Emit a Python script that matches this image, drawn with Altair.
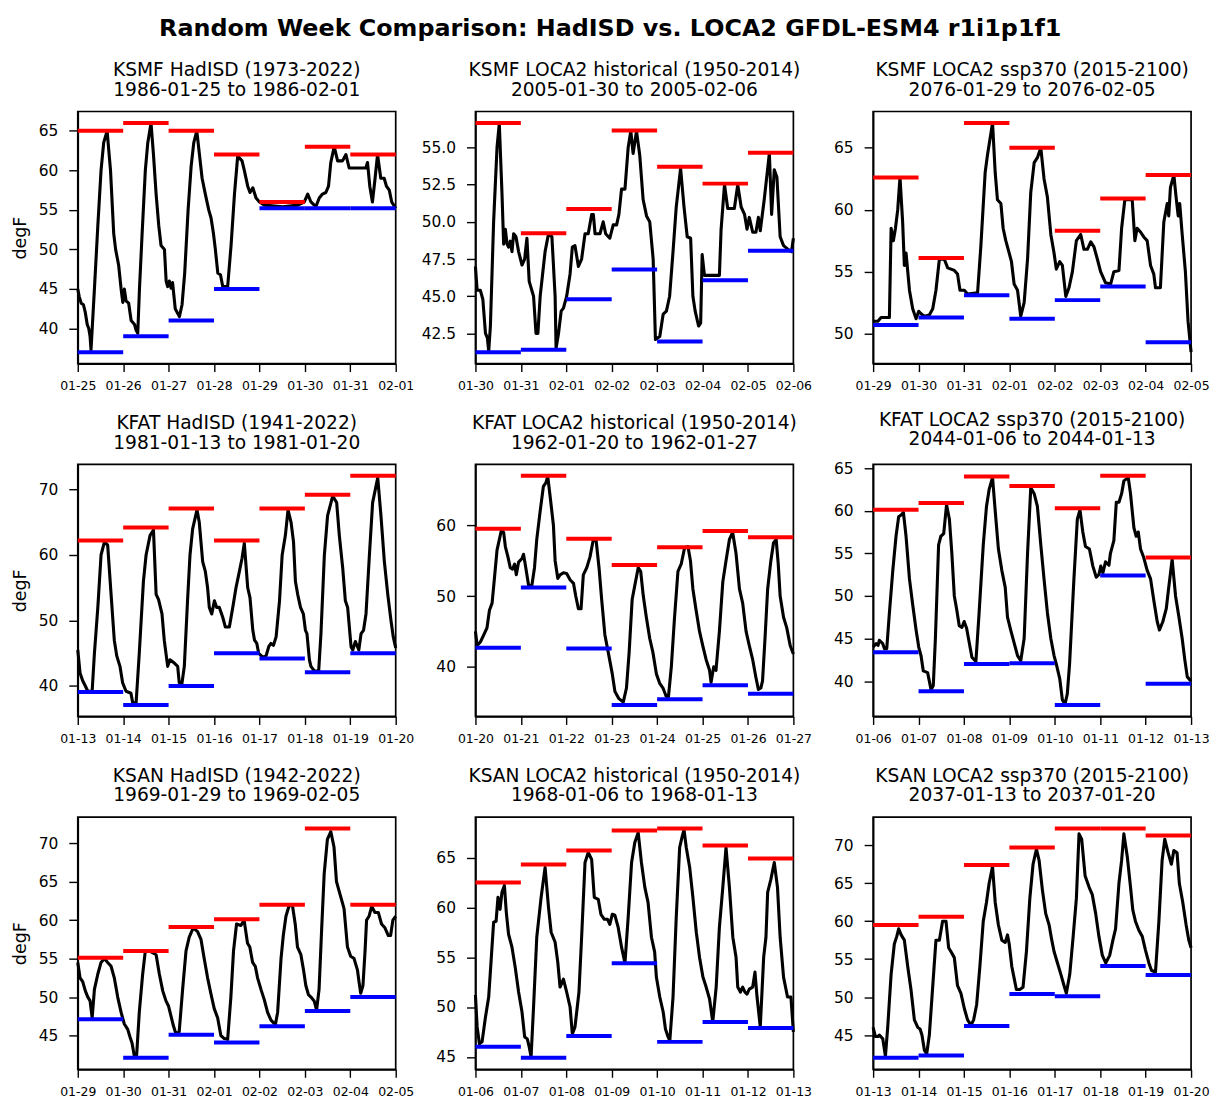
import altair as alt
import pandas as pd

MAIN_TITLE = "Random Week Comparison: HadISD vs. LOCA2 GFDL-ESM4 r1i1p1f1"

# ---------------- Panel 1 : KSMF HadISD ----------------
p1_title = ["KSMF HadISD (1973-2022)", "1986-01-25 to 1986-02-01"]
p1_days = ["01-25", "01-26", "01-27", "01-28", "01-29", "01-30", "01-31", "02-01"]
p1_yticks = [40, 45, 50, 55, 60, 65]
p1_max = [65, 66, 65, 62, 56, 63, 62]
p1_min = [37, 39, 41, 45, 55.2, 55.2, 55.2]
p1_line = [(0,45),(0.8,44),(1.8,43.2),(3,43),(4,42),(5,40.5),(5.8,40),(6.5,39),(7,37.3),(8.8,45),(10.6,53),(12.3,60),(13.7,63.5),(15.5,65),(17.3,60),(19,52),(20,50),(21.6,48),(22.9,45),(23.8,43.3),(24.6,45),(25.5,43.5),(26.9,43.2),(28.2,41),(30,40.5),(30.8,39.8),(31.7,39.4),(32.6,45),(34,52),(35.7,60),(37,63.5),(38.7,66),(40,62),(41.4,57),(42.8,53),(44,50.5),(45.8,50),(46.7,46),(47.5,45.3),(48.4,46),(49.3,45.1),(50.1,45.8),(51.5,42.5),(53.7,41.5),(55.1,43),(56.5,47),(58.3,55),(59.9,60.5),(61.3,63.5),(62.9,65),(64.3,62),(65.7,59),(67.4,57),(69.2,55),(70.4,54),(71.7,52),(72.7,50),(74,47),(75.4,46.8),(76.6,45.3),(79.2,45.3),(81,50.5),(82.8,57),(84.5,61.8),(86.8,61.2),(88,60),(89.8,58),(91,57.2),(92.5,57.8),(94.2,56.5),(96,56),(98.6,55.6),(108.3,55.4),(116.2,55.6),(119.7,56),(121.5,57),(123.2,56),(125.8,55.4),(127.6,56.5),(129.3,57),(131.1,57.2),(132.5,58),(133.7,61),(135.5,63),(137.3,61.2),(139.9,61.2),(141.7,62),(143.4,60.3),(152.2,60.3),(153.1,61),(154.3,58),(155.7,56),(157.1,59),(158.4,62),(160.1,59),(161.9,59),(163.1,58),(164.6,57.5),(165.9,56),(168,55.2)]

# ---------------- Panel 2 : KSMF LOCA2 historical ----------------
p2_title = ["KSMF LOCA2 historical (1950-2014)", "2005-01-30 to 2005-02-06"]
p2_days = ["01-30", "01-31", "02-01", "02-02", "02-03", "02-04", "02-05", "02-06"]
p2_yticks = [42.5, 45.0, 47.5, 50.0, 52.5, 55.0]
p2_max = [56.65, 49.23, 50.86, 56.14, 53.7, 52.57, 54.64]
p2_min = [41.24, 41.41, 44.8, 46.8, 41.95, 46.07, 48.05]
p2_line = [(0,47),(0.9,45.4),(2.6,45.4),(3.9,44.8),(5.3,42.5),(6.3,42.2),(7,41.3),(7.9,43),(9.6,50),(11.4,55),(12.6,56.6),(14,52),(14.9,48.5),(15.8,49.5),(16.7,48.5),(17.5,48.3),(18.4,48.7),(19.3,48),(20.2,49.2),(21.4,49),(22.8,48),(24.6,47.1),(26,47.5),(27.2,48.9),(28.4,46),(30.7,45),(32,42.5),(33,42.5),(34.2,45),(36.8,48),(38.6,49.2),(40.4,49),(42.1,45),(42.6,41.5),(43.9,42.5),(45.3,44),(46.5,44.2),(48.2,45),(50,46.5),(51.2,48.3),(52.6,48.4),(54.4,47),(56.1,47.5),(57.9,49.2),(59.6,49.2),(61.4,50.5),(62.3,50.5),(63.2,49.2),(65.8,49.2),(67.5,50),(68.8,49.2),(71,48.9),(72.8,49.8),(74.6,49.8),(75.8,50.5),(77.2,52.2),(79,52.2),(80.7,55),(82.1,56.1),(83.3,54.6),(85.1,56.1),(86.8,54.5),(88.6,51.5),(90.4,50.4),(92.1,50),(93.9,47.5),(95.1,42.1),(97.4,42.3),(99.2,43.8),(100.9,44),(102.6,45),(104.4,48),(106.1,51),(108.4,53.6),(110.2,51),(111.9,49),(113.7,48.9),(114.9,45),(116.1,44),(117.9,43),(119,43.2),(119.8,47.8),(121,46.4),(128.9,46.4),(129.8,49.5),(131.6,52.5),(133.3,50.9),(136.8,50.9),(138.6,52.5),(140.4,51),(142.2,50.5),(143.5,49.5),(144.7,50.3),(146.5,49.3),(148.2,49.3),(149.5,50.3),(150.5,49.4),(152.6,51.5),(155.3,54.6),(156.5,50.5),(157.9,53.5),(159.3,53),(161,49),(162.8,48.4),(165.7,48.1),(167,48),(168,48.9)]

# ---------------- Panel 3 : KSMF LOCA2 ssp370 ----------------
p3_title = ["KSMF LOCA2 ssp370 (2015-2100)", "2076-01-29 to 2076-02-05"]
p3_days = ["01-29", "01-30", "01-31", "02-01", "02-02", "02-03", "02-04", "02-05"]
p3_yticks = [50, 55, 60, 65]
p3_max = [62.6, 56.1, 67, 65, 58.3, 60.9, 62.8]
p3_min = [50.7, 51.3, 53.1, 51.2, 52.7, 53.8, 49.3]
p3_line = [(0,51),(2.5,51),(4.2,51.3),(8.6,51.3),(9.5,58.5),(10.7,57.5),(11.8,58.5),(13,60),(14.2,62.6),(15.6,59),(16.5,55.5),(17.4,56.5),(19.2,53.5),(20.9,52),(22.7,51.2),(24.1,51.8),(25.3,51.6),(27.1,51.4),(29.7,51.5),(31.5,52),(33.2,53.5),(35,56),(37.6,56),(39.4,55.3),(42.9,55.1),(44.6,54.8),(45.9,53.5),(48.2,53.5),(49.9,53.2),(55.2,53.3),(56.9,57),(59.2,63),(60.5,64.5),(63.1,67),(64.5,63),(65.7,60.8),(67.5,60.5),(68.7,58.5),(70.1,57.5),(71.9,56.5),(73.1,55.8),(74.5,54),(76.3,53.5),(78,51.4),(79.8,52.5),(81.6,56),(83.3,61.4),(85.1,63.8),(86.8,64.2),(88.6,65),(90.3,62.5),(92.1,61),(93.9,58),(95.6,56.5),(96.8,55.2),(98.6,55.8),(100,55.5),(101.8,53),(103.5,53.7),(105.3,55),(107.4,57.5),(109.7,58),(111.4,56.8),(113.2,56.8),(115,57.4),(116.7,57),(118.5,56),(120.2,55),(122.8,54.1),(125.5,54),(127.2,55),(129.9,55.1),(131.3,58.5),(133,60.8),(136.9,60.8),(138.3,57.5),(139.5,58.5),(141.3,58.2),(143,57.8),(144.8,57.5),(146.6,55.5),(148.3,54.8),(149.2,53.7),(151.8,53.7),(153.6,59),(155.4,60.5),(156.2,59.5),(157.1,61.8),(158.9,62.8),(160.1,61),(161.2,59.5),(162,60.5),(163.2,58.2),(165,55),(166.4,51),(168,48.5)]

# ---------------- Panel 4 : KFAT HadISD ----------------
p4_title = ["KFAT HadISD (1941-2022)", "1981-01-13 to 1981-01-20"]
p4_days = ["01-13", "01-14", "01-15", "01-16", "01-17", "01-18", "01-19", "01-20"]
p4_yticks = [40, 50, 60, 70]
p4_max = [62.2, 64.2, 67.1, 62.2, 67.1, 69.2, 72.1]
p4_min = [39.1, 37.1, 40, 45, 44.2, 42.1, 45]
p4_line = [(0,45.5),(1.2,42),(2.6,40.8),(4,40),(5.3,39.2),(7.6,39.2),(8.8,45),(10.6,52),(12.3,60),(14.1,62),(15.8,61.5),(17.6,54),(19.3,47),(20.6,44.6),(22.3,43),(23.7,40.5),(25.5,39.2),(28.1,38.9),(29,37.5),(30.8,37.3),(32.5,45),(34.7,56),(36.1,60),(38.2,63),(40,63.8),(41.4,54),(42.7,53.2),(44.5,51),(45.7,47),(47.5,43),(48.7,44),(51,43.5),(52.8,43),(53.6,40.5),(55,40.3),(56.3,43),(58,53),(59.3,60),(60.7,64),(63,66.9),(64.2,65),(66,59),(67.4,57.5),(68.6,55),(69.5,52),(70.8,51),(72.2,53),(73.4,52),(74.8,52),(76.6,50.5),(78,49),(80.1,49),(81.9,52),(83.6,55),(85.4,57.5),(86.8,59.5),(88,61.8),(89.8,55),(91,53.5),(92.5,48.5),(93.4,47),(94.6,46.5),(95.6,45),(97.7,44.4),(99.5,44.6),(100.9,46),(102.1,46.5),(103.4,46.2),(104.8,47.5),(106.6,53),(108,60),(109.7,63),(111.1,66.9),(112.7,65),(114,62),(115,56),(116.2,54),(117.7,52),(119.2,51),(120.3,48.5),(121.1,48),(122.4,44),(123.2,43),(125,42.3),(127.3,42.3),(128.5,48),(130.3,60),(132,66),(134.7,69),(136.8,68),(138.2,63),(140,58),(141.4,53),(142.6,52),(144.4,46),(145.3,45.5),(146.7,46.8),(148.5,45.5),(149.7,48),(151,48.5),(152.3,51),(154.1,60),(155.8,68),(158.5,71.8),(160.2,66),(162,59),(163.8,54),(165.5,50),(166.7,47.5),(168,45.8)]

# ---------------- Panel 5 : KFAT LOCA2 historical ----------------
p5_title = ["KFAT LOCA2 historical (1950-2014)", "1962-01-20 to 1962-01-27"]
p5_days = ["01-20", "01-21", "01-22", "01-23", "01-24", "01-25", "01-26", "01-27"]
p5_yticks = [40, 50, 60]
p5_max = [59.5, 67, 58.1, 54.4, 56.9, 59.2, 58.3]
p5_min = [42.7, 51.2, 42.6, 34.6, 35.4, 37.4, 36.2]
p5_line = [(0,45),(0.9,43),(2.6,43.5),(4.4,44.5),(6.1,45.5),(7.4,48),(8.8,49),(10.2,53),(11.4,56.5),(13.7,59.3),(14.9,59),(15.8,57),(17.2,55.5),(18.4,54),(19.6,53.8),(20.7,54.5),(21.6,53),(22.8,54.8),(24.6,55.3),(25.4,55.9),(26.3,54.5),(28.1,51.5),(29.8,51.5),(31.2,54),(32.4,58),(34.2,62),(35.9,65.5),(37.2,66),(38.2,66.9),(39.5,64),(41.2,60),(42.1,55),(43.5,52.5),(44.7,53),(46.5,53.3),(48.2,53.2),(50,52.3),(51.8,51.8),(53,50),(54.4,48.2),(55.8,48.2),(57,53),(58.8,54),(60.5,55.5),(62.3,58),(63.7,58),(65.3,54),(66.7,49.5),(68.4,44.5),(70.2,42),(72.3,39),(73.7,36.5),(75.8,35.5),(78.1,35),(79.8,37),(81.2,42),(82.8,49.5),(84.2,51.5),(86,54),(87.3,53.5),(88.7,50),(90.3,47),(92.1,44),(93.8,42),(95.6,39),(97.3,37.7),(99.1,37),(100.8,35.8),(102,35.8),(103.5,40),(105.2,47),(107,53.5),(108.7,54.5),(110.5,56.8),(112.3,57),(113.6,55),(114.9,51),(116.6,48),(118.4,45),(120.1,43),(121.9,41),(123.7,39.5),(124.5,37.8),(125.9,40),(127.1,39.5),(128.9,45),(130.7,52),(132.4,55),(134.2,58),(135.9,59),(137.7,56),(139.5,51),(141.2,49),(143,45),(144.7,43),(146.5,41),(148.2,38.5),(149.5,36.8),(150.8,37),(151.7,38),(153,44),(154.4,51),(156.1,55),(157.5,57.5),(158.9,58),(160,54.5),(161,50),(162.8,47),(164.5,45.5),(166.3,43),(168,41.8)]

# ---------------- Panel 6 : KFAT LOCA2 ssp370 ----------------
p6_title = ["KFAT LOCA2 ssp370 (2015-2100)", "2044-01-06 to 2044-01-13"]
p6_days = ["01-06", "01-07", "01-08", "01-09", "01-10", "01-11", "01-12", "01-13"]
p6_yticks = [40, 45, 50, 55, 60, 65]
p6_max = [60.1, 60.9, 64, 62.9, 60.3, 64.1, 54.5]
p6_min = [43.4, 38.8, 42, 42.1, 37.2, 52.4, 39.7]
p6_line = [(0,44),(1.6,44.4),(2.6,44.2),(3.3,44.8),(5.1,44.4),(6,43.8),(7.2,43.8),(8.6,48),(10.4,53),(12.1,57),(13.5,59.3),(14.8,59.5),(16,59.8),(17.4,57),(19.2,52),(20.9,49),(22.7,46),(24.1,44),(25.3,43),(26.5,41.2),(28.8,41),(30.6,39),(31.8,39.5),(32.9,45),(34.6,56),(35.8,57),(37.3,57.3),(38.8,60.7),(40.3,59),(41.6,55),(42.9,50),(44.1,48.5),(45.5,46.5),(46.9,46.3),(48.1,47),(49.4,46.2),(50.8,44.5),(52.2,42.8),(54.3,42.3),(56,48),(58.2,56),(59.9,60.5),(61.3,62.5),(63.1,63.9),(64.5,60),(66.2,55.5),(68,53),(69.8,51),(71,47.5),(72.7,46),(74.5,44.5),(76.3,43),(78,42.4),(79.8,45),(81.6,55),(83.3,62.7),(85.1,62),(86.8,60.5),(88.6,56),(90.3,52),(92.1,48),(93.9,45),(95.6,43),(96.8,42),(98.6,40.3),(100,37.8),(101.4,37.3),(102.6,38.5),(103.8,42),(106.1,52),(107.9,59),(109.3,60.1),(110.8,57.5),(112.2,55.8),(114.3,55.5),(116.1,53.5),(117.9,52.2),(119.3,52.5),(120.3,53.5),(121.4,52.7),(122.8,54),(124.6,53.6),(125.4,55),(127.2,56.5),(128.5,61),(129.9,61),(131.3,62),(132.5,63.5),(134.8,63.9),(136,62),(137.8,58),(139,57),(140.1,57.5),(141.3,55.5),(143,54.5),(144.8,53),(146.6,52),(148.3,49.5),(150.1,47),(151.3,46),(153.1,47),(154.9,48.5),(156.2,51),(158,54.3),(159.8,50),(161.6,47.5),(163.3,45),(164.7,42.5),(166,40.5),(168,40)]

# ---------------- Panel 7 : KSAN HadISD ----------------
p7_title = ["KSAN HadISD (1942-2022)", "1969-01-29 to 1969-02-05"]
p7_days = ["01-29", "01-30", "01-31", "02-01", "02-02", "02-03", "02-04", "02-05"]
p7_yticks = [45, 50, 55, 60, 65, 70]
p7_max = [55.1, 56, 59.1, 60.1, 62, 71.9, 62]
p7_min = [47.1, 42.1, 45.1, 44.1, 46.2, 48.2, 50]
p7_line = [(0,54.5),(1.2,52.5),(2.6,52),(4,50.8),(5.3,50),(6.5,49.5),(7.6,47.3),(8.8,51),(10.6,53),(12.3,54.5),(14.1,55),(15.8,54.5),(17.6,54),(19.3,52.5),(21.1,50),(22.9,48),(24.6,46.5),(26.4,45.8),(27.6,44.8),(28.7,44),(29.9,42.3),(31.1,42.4),(32.5,48),(34.3,53),(35.7,56),(37.8,56),(41.4,55.5),(43.1,53),(44.9,50.8),(46.6,49.5),(48,48.8),(49.3,47.5),(50.5,46.3),(51.9,45.2),(53.6,45.5),(55.4,51),(57.2,56),(58.9,57.8),(61,59),(63.3,58.5),(65.1,57.5),(66.8,55),(68.6,52.5),(70.3,50.5),(72.1,48.5),(73.9,47.3),(75.6,45),(77.4,44.6),(79.2,44.5),(80.9,50),(82.3,56),(83.9,59.5),(86.2,59.3),(87.9,60),(89.7,57),(90.9,56.5),(92.4,54.5),(93.8,54),(95,52.5),(96.8,51),(98.5,49.7),(100.3,48),(102.1,47),(104.4,46.4),(105.6,48),(107.4,55),(108.6,58),(110,60.5),(111.8,62),(113.5,61.8),(114.9,59.5),(116.1,56.5),(117.9,55.5),(119.3,53.5),(120.5,51.5),(121.9,50.3),(123.2,50),(124.9,49.5),(126.2,48.3),(127.5,51),(128.9,59),(130.2,66),(131.9,70.5),(133.7,71.5),(135.4,69.5),(136.7,65),(139,63),(140.7,61.5),(141.6,59),(142.5,56.5),(144.2,55.3),(146,55),(147.8,53.5),(148.6,52),(149.5,50.5),(150.7,51.5),(151.8,56),(152.6,60),(153.9,60.5),(155.3,61.8),(157,61),(158.8,61),(160.5,59.5),(162.3,59),(164.1,58),(165.3,58),(166.5,60),(168,60.5)]

# ---------------- Panel 8 : KSAN LOCA2 historical ----------------
p8_title = ["KSAN LOCA2 historical (1950-2014)", "1968-01-06 to 1968-01-13"]
p8_days = ["01-06", "01-07", "01-08", "01-09", "01-10", "01-11", "01-12", "01-13"]
p8_yticks = [45, 50, 55, 60, 65]
p8_max = [62.5, 64.3, 65.7, 67.7, 67.9, 66.2, 64.9]
p8_min = [46, 44.9, 47.1, 54.4, 46.5, 48.5, 47.9]
p8_line = [(0,51.2),(0.9,48),(2.1,46.3),(3.5,46.5),(5.3,49),(7,51),(8.4,55),(9.6,58.5),(10.9,58.6),(11.9,61),(13,59.8),(14,61.5),(15.3,62.2),(16.3,59.5),(17.5,57.3),(19.3,56),(21,54),(22.8,51.5),(24.6,49.5),(26,47),(27.4,46.8),(28.4,46),(29.4,45),(30.7,50),(32.4,57),(34.7,61),(36.8,64),(38.6,60),(40,57.5),(42.1,56.5),(43.5,54.5),(44.7,52),(46.5,52.8),(48.2,51.5),(50,50),(51.2,47.3),(52.6,48),(54.7,51.5),(56.1,57),(57.9,64.5),(59.6,65.5),(61.4,64.8),(62.8,61),(64.9,60.8),(66.3,59.3),(68.1,58.8),(69.8,58.8),(71,58.3),(72.3,59.3),(73.7,59.2),(75.4,58),(77.2,56),(79,54.4),(80.7,59),(82.5,64.5),(84.2,66.5),(86,67.5),(87.7,64.5),(89.5,62),(91.2,60.5),(93,57),(94.7,55.5),(95.6,53),(97.4,51),(99.2,49.5),(100.4,47.8),(101.8,47),(102.7,46.6),(104.4,51),(106.1,59),(107.9,66),(109.1,67),(110.2,67.8),(111.4,66),(113.2,64),(114.9,61),(116.7,57.5),(118.4,55),(120.2,53),(121.9,52),(123.7,50.8),(125.4,48.5),(127.2,52),(128.9,58),(130.7,62),(132.4,66),(134.2,62),(136,57),(137.7,55),(138.6,52),(140,51.5),(141.2,52),(142.4,51.5),(143.5,51.3),(144.7,51.8),(146.5,52),(147.7,53.5),(148.8,51),(150.5,48),(152.3,55),(153.5,57),(154.4,61.5),(156.1,62.8),(157.9,64.5),(159.6,62),(161,57),(162.8,53),(164.9,51),(166.7,51),(168,47.5)]

# ---------------- Panel 9 : KSAN LOCA2 ssp370 ----------------
p9_title = ["KSAN LOCA2 ssp370 (2015-2100)", "2037-01-13 to 2037-01-20"]
p9_days = ["01-13", "01-14", "01-15", "01-16", "01-17", "01-18", "01-19", "01-20"]
p9_yticks = [45, 50, 55, 60, 65, 70]
p9_max = [59.5, 60.6, 67.4, 69.7, 72.2, 72.2, 71.3]
p9_min = [42, 42.3, 46.2, 50.4, 50.1, 54.1, 52.9]
p9_line = [(0,46),(1.2,44.8),(2.5,44.8),(3.3,45),(5.1,44.5),(6.5,42.2),(7.7,46),(9.5,53),(11.2,57),(12.5,58),(13.5,59),(14.8,58.2),(16.5,57.5),(18.3,54),(20,51),(21.8,47),(23.6,46),(24.8,45.8),(25.8,45),(27.1,43),(28.3,42.5),(29.7,45),(31.1,50),(33.2,57.5),(35,57.5),(36.7,60),(38.5,60),(39.9,56.5),(41.1,56),(42.9,55.2),(44.6,51.5),(46.4,50.5),(48.2,48.5),(49.9,47),(51.7,46.3),(53.1,47),(54.7,49),(56.4,54),(58.2,60),(59.9,62.5),(61.3,65),(63.1,67.2),(64.5,62.5),(66.2,59.5),(68,57.5),(69.8,57.2),(71,58.2),(71.9,57),(73.3,54),(74.5,52.5),(75.7,51),(77.5,51),(79.2,51.3),(81,56),(82.8,63),(84.5,67.5),(86.3,69.5),(87.7,68),(89.5,64),(91.2,61),(93,59.5),(94.4,57.5),(95.6,56),(97.4,54.5),(99.2,53),(100.9,51.5),(102.1,50.5),(103.9,53),(105.7,58),(107.4,63),(108.8,71.5),(110.2,70.8),(112,66),(114.1,64.5),(115.8,63.5),(117.6,61),(119.3,58),(121.1,55.5),(122.9,54.5),(125,55.5),(126.7,57.5),(128.1,59),(129.9,65),(131.3,68),(132.5,71.5),(134.3,68.5),(136,64.5),(137.2,61.5),(138.6,60),(140.4,58.8),(142.2,58),(143.9,56.2),(145.7,54.5),(147.1,53.5),(149.2,53.3),(151,60),(152.7,68),(154.1,70.8),(155.9,69),(157.6,67.5),(158.9,69.3),(160.6,69),(161.8,65),(163.6,62.5),(165.4,59.5),(166.8,57.5),(168,56.5)]

FONT = "DejaVu Sans"
PW, PH = 319, 253
YTITLE_SIZE = 17.5


def panel(title, days, line, tmax, tmin, yticks, yfmt, ytitle):
    df_line = pd.DataFrame(line, columns=["hour", "temp"])
    df_line["day"] = df_line["hour"] / 24.0
    df_seg = pd.DataFrame({"start": list(range(7)), "end": list(range(1, 8)),
                           "tmax": tmax, "tmin": tmin})
    vals = list(df_line["temp"]) + list(tmax) + list(tmin)
    lo, hi = min(vals), max(vals)
    pad = 0.05 * (hi - lo)
    xscale = alt.Scale(domain=[0, 7], nice=False, zero=False)
    yscale = alt.Scale(domain=[lo - pad, hi + pad], nice=False, zero=False)
    expr = "[" + ",".join("'%s'" % d for d in days) + "][datum.value]"
    xaxis = alt.Axis(values=list(range(8)), labelExpr=expr, title=None,
                     labelFontSize=12.5, labelPadding=8, tickSize=8,
                     labelOverlap=False, labelFlush=False)
    common_y = dict(values=yticks, format=yfmt, labelFontSize=15.5, labelPadding=11,
                    tickSize=9, labelOverlap=False, labelFlush=False)
    if ytitle:
        yaxis = alt.Axis(title="degF", titleFontSize=YTITLE_SIZE, titlePadding=9,
                         titleFont=FONT, titleFontWeight="normal", **common_y)
        ytitle_text = "degF"
    else:
        yaxis = alt.Axis(title=None, **common_y)
        ytitle_text = None
    yenc = alt.Y("temp:Q", scale=yscale, axis=yaxis, title=ytitle_text)
    ln = alt.Chart(df_line).mark_line(color="black", strokeWidth=3.1,
                                      strokeJoin="round").encode(
        x=alt.X("day:Q", scale=xscale, axis=xaxis), y=yenc)
    rmax = alt.Chart(df_seg).mark_rule(color="#ff0000", strokeWidth=4).encode(
        x=alt.X("start:Q", scale=xscale, axis=xaxis), x2="end:Q",
        y=alt.Y("tmax:Q", scale=yscale, axis=yaxis, title=ytitle_text))
    rmin = alt.Chart(df_seg).mark_rule(color="#0000ff", strokeWidth=4).encode(
        x=alt.X("start:Q", scale=xscale, axis=xaxis), x2="end:Q",
        y=alt.Y("tmin:Q", scale=yscale, axis=yaxis, title=ytitle_text))
    return alt.layer(ln, rmax, rmin).properties(
        width=PW, height=PH,
        title=alt.TitleParams(text=title, fontSize=18.7, font=FONT, fontWeight="normal",
                              color="black", lineHeight=20, offset=12,
                              anchor="middle", frame="group"))


specs = [
    (p1_title, p1_days, p1_line, p1_max, p1_min, p1_yticks, "d", True),
    (p2_title, p2_days, p2_line, p2_max, p2_min, p2_yticks, ".1f", False),
    (p3_title, p3_days, p3_line, p3_max, p3_min, p3_yticks, "d", False),
    (p4_title, p4_days, p4_line, p4_max, p4_min, p4_yticks, "d", True),
    (p5_title, p5_days, p5_line, p5_max, p5_min, p5_yticks, "d", False),
    (p6_title, p6_days, p6_line, p6_max, p6_min, p6_yticks, "d", False),
    (p7_title, p7_days, p7_line, p7_max, p7_min, p7_yticks, "d", True),
    (p8_title, p8_days, p8_line, p8_max, p8_min, p8_yticks, "d", False),
    (p9_title, p9_days, p9_line, p9_max, p9_min, p9_yticks, "d", False),
]
panels = [panel(*s) for s in specs]

chart = alt.concat(*panels, columns=3, spacing={"row": 101, "column": 80},
                   bounds="flush").properties(
    title=alt.TitleParams(text=MAIN_TITLE, fontSize=23.9, font=FONT, fontWeight="bold",
                          color="black", anchor="middle", offset=19),
    padding={"left": 2, "top": 7, "right": 0, "bottom": 0},
).configure_view(stroke="black", strokeWidth=1.7).configure_axis(
    domainColor="black", domainWidth=1.7, tickColor="black", tickWidth=1.4,
    labelColor="black", labelFont=FONT, titleFont=FONT, titleColor="black",
    titleFontWeight="normal", titleFontSize=YTITLE_SIZE, grid=False
).configure_axisY(titleFontSize=YTITLE_SIZE)

chart.save("out.html", embed_options={"renderer": "svg", "actions": False})
